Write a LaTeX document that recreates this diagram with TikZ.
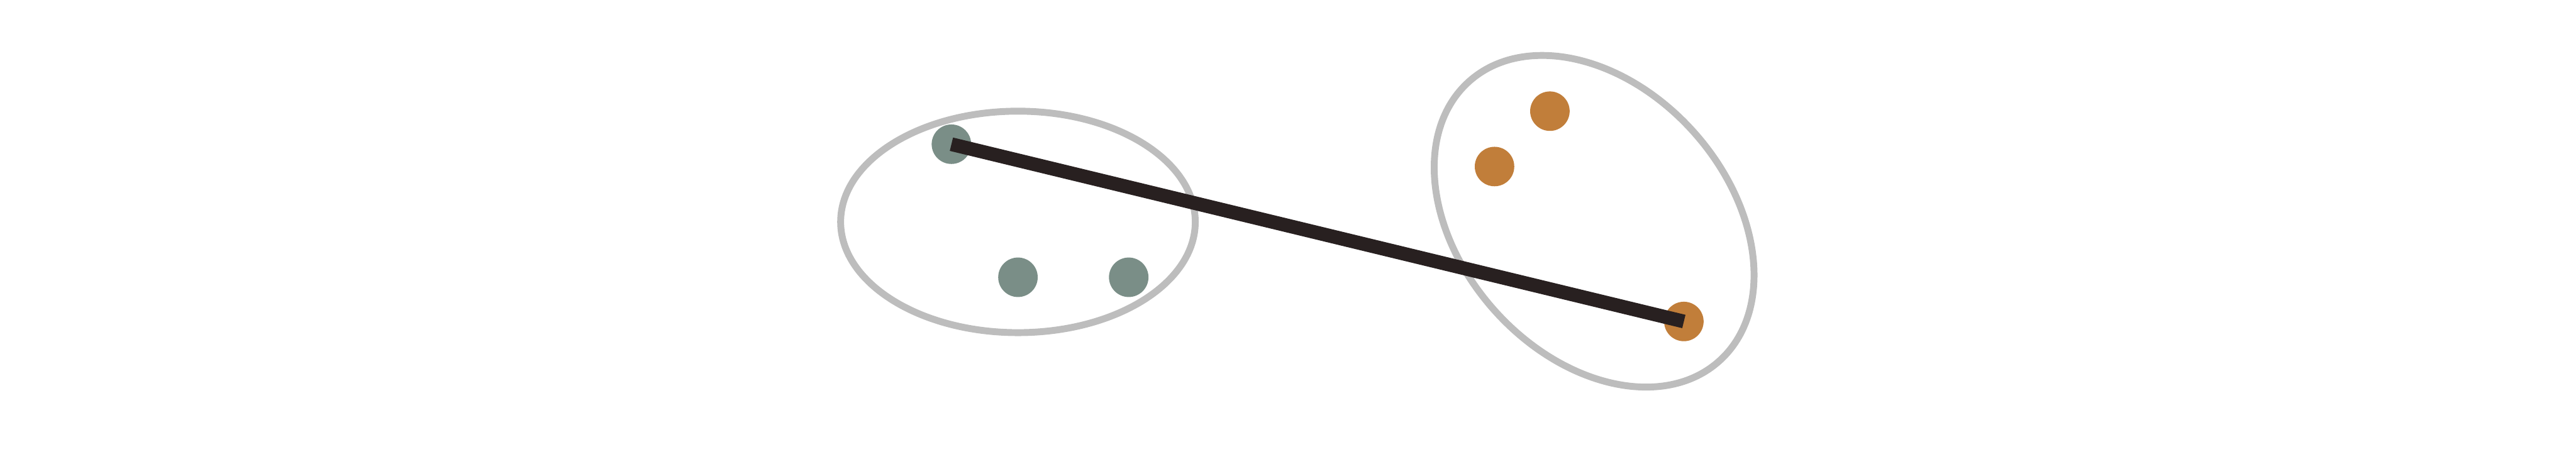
\documentclass[tikz,border=0pt]{standalone}
\definecolor{sage}{HTML}{7A8E87}
\definecolor{ochre}{HTML}{C17E3A}
\definecolor{rim}{HTML}{BDBDBD}
\definecolor{bar}{HTML}{282020}
\begin{document}
\begin{tikzpicture}[
  dot/.style={circle,inner sep=0pt,minimum size=0.92cm},
  rimline/.style={draw=rim,line width=0.16cm}]
\useasboundingbox (0,0) rectangle (60,-10.8);

\draw[rimline] (23.71,-5.17) ellipse (4.13 and 2.58);
\draw[rimline,rotate around={-48.2:(37.13,-5.155)}] (37.13,-5.155) ellipse (4.37 and 3.115);

\node[dot,fill=sage] (g1) at (22.16,-3.36) {};
\node[dot,fill=sage] (g2) at (23.71,-6.46) {};
\node[dot,fill=sage] (g3) at (26.29,-6.46) {};

\node[dot,fill=ochre] (o1) at (36.10,-2.59) {};
\node[dot,fill=ochre] (o2) at (34.81,-3.88) {};
\node[dot,fill=ochre] (o3) at (39.22,-7.49) {};

\draw[bar,line width=0.32cm] (g1.center) -- (o3.center);
\end{tikzpicture}
\end{document}
